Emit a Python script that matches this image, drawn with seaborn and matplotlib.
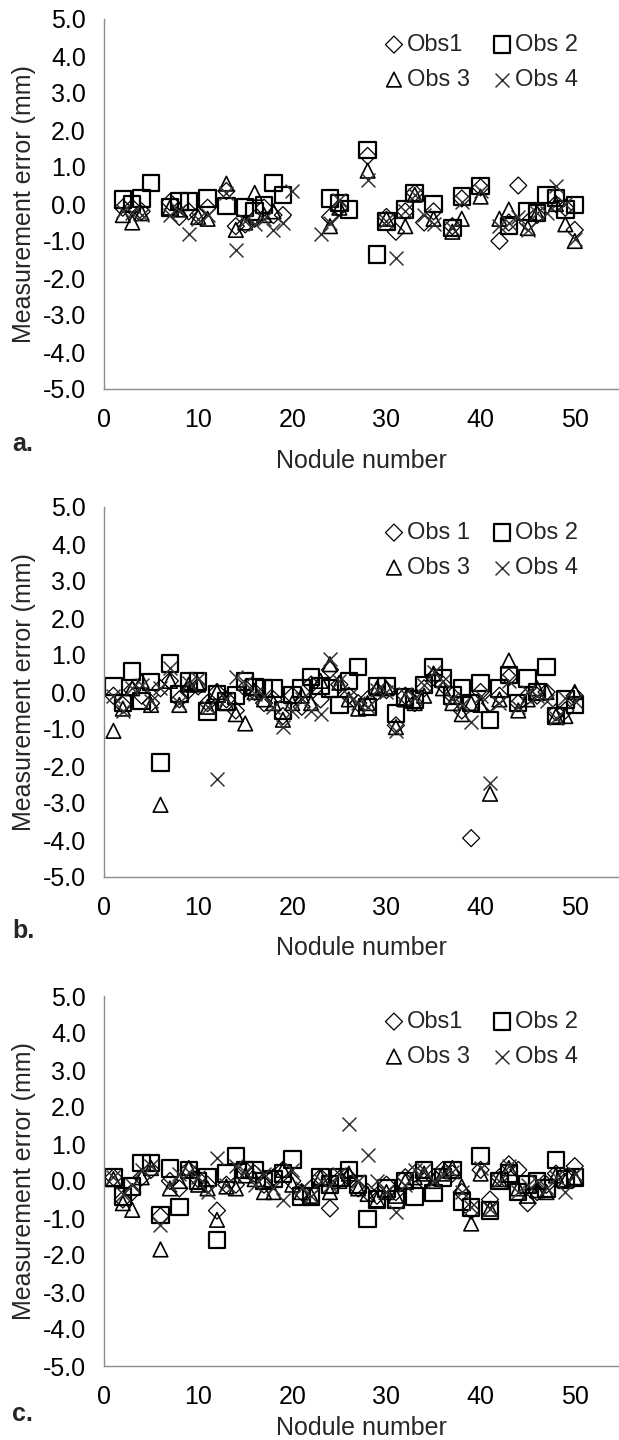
import matplotlib
matplotlib.use("Agg")
import matplotlib.pyplot as plt
import seaborn as sns

sns.set_style("white")
plt.rcParams["font.family"] = ["Liberation Sans", "DejaVu Sans"]
plt.rcParams["axes.unicode_minus"] = False

# ---------------------------------------------------------------------------------
# panel a: each observer has its own set of nodules
a_obs1_x = [2, 3, 4, 7, 8, 9, 10, 11, 13, 14, 15, 16, 17, 18, 19, 24, 25, 28, 30, 31,
            32, 33, 34, 35, 37, 38, 40, 42, 43, 44, 45, 46, 48, 49, 50]
a_obs1_y = [-0.1, -0.1, -0.2, 0.05, -0.35, -0.2, -0.3, -0.1, 0.35, -0.6,
            -0.55, -0.4, -0.1, -0.3, -0.3, -0.35, -0.1, 1.3, -0.35, -0.75,
            -0.2, 0.3, -0.5, -0.2, -0.6, 0.15, 0.45, -1.0, -0.5, 0.5,
            -0.5, -0.3, 0.0, -0.1, -0.7]
a_obs2_x = [2, 3, 4, 5, 7, 8, 9, 11, 13, 15, 16, 17, 18, 19, 24, 25, 26, 28, 29, 30,
            32, 33, 35, 37, 38, 40, 43, 45, 46, 47, 48, 49, 50]
a_obs2_y = [0.12, 0.0, 0.15, 0.57, -0.1, 0.07, 0.07, 0.15, -0.06, -0.1,
            -0.2, -0.02, 0.57, 0.25, 0.15, 0.03, -0.15, 1.46, -1.37, -0.47,
            -0.15, 0.3, 0.0, -0.65, 0.2, 0.48, -0.6, -0.2, -0.24, 0.25,
            0.16, -0.15, -0.02]
a_obs3_x = [2, 3, 4, 7, 8, 10, 11, 13, 14, 15, 16, 17, 18, 24, 25, 28, 30, 32, 33, 35,
            37, 38, 40, 42, 43, 45, 46, 48, 49, 50]
a_obs3_y = [-0.3, -0.5, -0.25, -0.1, -0.15, -0.35, -0.4, 0.55, -0.7, -0.5,
            0.3, -0.3, -0.2, -0.6, -0.1, 0.9, -0.4, -0.6, 0.25, -0.4,
            -0.75, -0.4, 0.2, -0.4, -0.15, -0.65, -0.25, 0.0, -0.55, -1.0]
a_obs4_x = [2, 3, 4, 7, 8, 9, 10, 11, 13, 14, 15, 16, 17, 18, 19, 20, 23, 24, 25, 28,
            30, 31, 32, 33, 34, 35, 37, 38, 40, 42, 43, 44, 45, 46, 47, 48, 49, 50]
a_obs4_y = [-0.2, -0.25, -0.3, -0.3, -0.2, -0.8, -0.4, -0.3, 0.3, -1.25,
            -0.45, -0.55, -0.4, -0.7, -0.5, 0.35, -0.8, -0.5, 0.1, 0.65,
            -0.45, -1.45, -0.2, 0.25, -0.3, -0.55, -0.65, 0.05, 0.35, -0.6,
            -0.5, -0.35, -0.7, -0.25, -0.25, 0.5, 0.0, -0.95]

# panels b and c: nodules 1..50
nodules_bc = [1, 2, 3, 4, 5, 6, 7, 8, 9, 10, 11, 12, 13, 14, 15, 16, 17, 18, 19, 20,
              21, 22, 23, 24, 25, 26, 27, 28, 29, 30, 31, 32, 33, 34, 35, 36, 37, 38, 39, 40,
              41, 42, 43, 44, 45, 46, 47, 48, 49, 50]

b_obs1 = [-0.1, -0.35, 0.05, -0.1, -0.3, 0.1, 0.3, -0.2, 0.05, 0.15,
          -0.3, 0.0, -0.2, -0.5, 0.1, 0.0, -0.3, -0.2, -0.65, -0.1,
          -0.4, 0.2, -0.2, 0.6, 0.2, -0.1, -0.3, -0.2, 0.0, 0.05,
          -0.9, -0.1, -0.3, 0.1, 0.4, 0.2, -0.1, -0.5, -3.95, 0.0,
          -0.3, -0.1, 0.4, -0.3, -0.1, -0.1, 0.0, -0.55, -0.5, -0.1]
b_obs2 = [0.15, -0.3, 0.55, -0.25, 0.27, -1.9, 0.77, -0.05, 0.28, 0.28,
          -0.53, -0.05, -0.26, -0.1, 0.28, 0.14, 0.1, 0.1, -0.5, -0.08,
          0.1, 0.41, 0.16, 0.1, -0.35, 0.3, 0.68, -0.4, 0.16, 0.16,
          -0.58, -0.15, -0.2, 0.19, 0.68, 0.37, -0.1, 0.1, -0.3, 0.25,
          -0.76, 0.1, 0.46, -0.3, 0.37, 0.0, 0.68, -0.65, -0.2, -0.35]
b_obs3 = [-1.05, -0.45, 0.1, 0.3, -0.35, -3.05, 0.3, -0.35, 0.2, 0.2,
          -0.4, 0.0, -0.3, -0.6, -0.85, 0.0, -0.2, -0.3, -0.75, -0.3,
          -0.1, -0.3, 0.3, 0.75, 0.25, -0.2, -0.45, -0.3, 0.1, 0.1,
          -0.95, -0.2, -0.3, -0.1, 0.5, 0.1, -0.3, -0.6, -0.3, -0.35,
          -2.75, -0.2, 0.85, -0.5, -0.2, 0.1, 0.0, -0.65, -0.65, 0.0]
b_obs4 = [-0.1, -0.5, 0.1, 0.2, -0.25, 0.1, 0.65, -0.3, 0.25, 0.35,
          -0.4, -2.35, -0.2, 0.4, 0.25, -0.05, -0.1, -0.4, -0.95, -0.5,
          -0.2, -0.5, -0.6, 0.9, 0.3, -0.1, -0.3, -0.4, 0.05, 0.0,
          -1.05, -0.05, -0.15, 0.2, 0.55, 0.3, -0.2, -0.35, -0.8, -0.1,
          -2.45, -0.3, 0.3, -0.4, 0.0, -0.1, -0.25, -0.7, -0.15, -0.25]

c_obs1 = [0.1, -0.5, -0.3, 0.1, 0.3, -0.95, 0.0, -0.2, 0.3, 0.05,
          -0.1, -0.8, -0.1, -0.1, 0.3, 0.2, -0.1, 0.1, 0.3, 0.0,
          -0.3, -0.2, 0.1, -0.74, 0.05, 0.1, -0.2, -0.3, -0.4, -0.1,
          -0.3, 0.1, 0.2, 0.0, 0.1, 0.3, 0.2, -0.3, -0.8, 0.3,
          -0.5, 0.1, 0.45, 0.3, -0.6, -0.3, -0.1, 0.2, 0.1, 0.4]
c_obs2 = [0.1, -0.42, -0.15, 0.48, 0.48, -0.92, 0.34, -0.71, 0.3, 0.0,
          0.1, -1.6, 0.2, 0.68, 0.3, 0.3, 0.0, 0.05, 0.2, 0.58,
          -0.42, -0.42, 0.1, -0.1, 0.1, 0.3, -0.1, -1.02, -0.5, -0.2,
          -0.5, 0.0, -0.42, 0.3, -0.33, 0.1, 0.3, -0.55, -0.72, 0.68,
          -0.8, 0.0, 0.2, -0.3, -0.1, 0.0, -0.2, 0.57, 0.05, 0.1]
c_obs3 = [0.05, -0.6, -0.78, 0.1, 0.35, -1.85, -0.2, 0.0, 0.35, -0.1,
          -0.2, -1.05, -0.15, -0.2, 0.15, 0.05, -0.3, -0.3, 0.3, -0.1,
          -0.3, -0.4, 0.1, -0.3, 0.0, 0.2, -0.2, -0.35, -0.5, -0.3,
          -0.4, 0.0, 0.1, 0.2, 0.0, 0.2, 0.35, -0.15, -1.15, 0.2,
          -0.75, 0.05, 0.35, -0.2, -0.4, -0.25, -0.3, 0.15, 0.0, 0.1]
c_obs4 = [0.1, -0.35, -0.1, 0.3, 0.4, -1.2, -0.1, 0.2, 0.25, 0.1,
          -0.3, 0.62, -0.1, 0.4, 0.25, -0.1, 0.2, -0.2, -0.5, 0.3,
          -0.2, -0.4, 0.0, -0.1, 0.2, 1.55, 0.0, 0.7, 0.0, -0.3,
          -0.85, -0.1, 0.3, 0.3, 0.0, 0.2, 0.25, -0.3, -0.7, 0.35,
          -0.75, 0.0, 0.4, -0.3, -0.1, 0.0, -0.2, 0.1, -0.3, 0.2]

labels_ac = ["Obs1", "Obs 2", "Obs 3", "Obs 4"]
labels_b = ["Obs 1", "Obs 2", "Obs 3", "Obs 4"]
panel_letters = ["a.", "b.", "c."]
y_ticks = [-5, -4, -3, -2, -1, 0, 1, 2, 3, 4, 5]
x_ticks = [0, 10, 20, 30, 40, 50]

FS = 18
GREY = "#8c8c8c"


def draw_panel(ax, series, labels, letter, letter_y, xlabel_y):
    """draw one panel of the four observers' errors"""
    styles = [
        dict(marker="D", s=75, facecolor="none", edgecolor="black", linewidth=0.9),
        dict(marker="s", s=140, facecolor="none", edgecolor="black", linewidth=1.6),
        dict(marker="^", s=110, facecolor="none", edgecolor="black", linewidth=1.2),
        dict(marker="x", s=100, color="#333333", linewidth=1.1),
    ]
    for (xs, ys), lab, st in zip(series, labels, styles):
        sns.scatterplot(x=xs, y=ys, label=lab, ax=ax, legend=False, **st)

    ax.set_xlim(0, 54.7)
    ax.set_ylim(-5, 5)
    ax.set_xticks(x_ticks)
    ax.set_yticks(y_ticks)
    ax.set_yticklabels([f"{v:.1f}" for v in y_ticks])
    for side in ["top", "right"]:
        ax.spines[side].set_visible(False)
    for side in ["left", "bottom"]:
        ax.spines[side].set_color(GREY)
        ax.spines[side].set_linewidth(1.0)
    ax.tick_params(axis="both", colors=GREY, labelcolor="black", labelsize=FS,
                   direction="out", length=5, width=1.0)
    ax.tick_params(axis="x", pad=9)
    ax.tick_params(axis="y", pad=8)
    ax.set_xlabel("Nodule number", fontsize=FS)
    ax.set_ylabel("Measurement error (mm)", fontsize=FS)
    ax.xaxis.set_label_coords(0.5, xlabel_y)
    ax.yaxis.set_label_coords(-0.132, 0.5)

    handles, labs = ax.get_legend_handles_labels()
    order = [0, 2, 1, 3]
    ax.legend([handles[i] for i in order], [labs[i] for i in order], ncol=2,
              loc="upper right", bbox_to_anchor=(0.92, 0.96), frameon=False,
              fontsize=FS - 1, borderaxespad=0, borderpad=0, labelspacing=0.55,
              handlelength=0.7, handletextpad=0.2, columnspacing=1.0)

    ax.figure.text(12 / 619, letter_y, letter, fontsize=FS, fontweight="bold",
                   va="center", ha="left")


fig = plt.figure(figsize=(6.19, 14.4), dpi=100)
left = 104 / 619
width = 1 - left
height = 370 / 1440
axes = [fig.add_axes([left, 1 - 389 / 1440, width, height]),
        fig.add_axes([left, 1 - 877 / 1440, width, height]),
        fig.add_axes([left, 1 - 1366 / 1440, width, height])]

draw_panel(axes[0],
           [(a_obs1_x, a_obs1_y), (a_obs2_x, a_obs2_y), (a_obs3_x, a_obs3_y), (a_obs4_x, a_obs4_y)],
           labels_ac, panel_letters[0], 1 - 444 / 1440, -0.162)
draw_panel(axes[1],
           [(nodules_bc, b_obs1), (nodules_bc, b_obs2), (nodules_bc, b_obs3), (nodules_bc, b_obs4)],
           labels_b, panel_letters[1], 1 - 931 / 1440, -0.16)
draw_panel(axes[2],
           [(nodules_bc, c_obs1), (nodules_bc, c_obs2), (nodules_bc, c_obs3), (nodules_bc, c_obs4)],
           labels_ac, panel_letters[2], 1 - 1414 / 1440, -0.135)

fig.savefig("out.png", dpi=100)
